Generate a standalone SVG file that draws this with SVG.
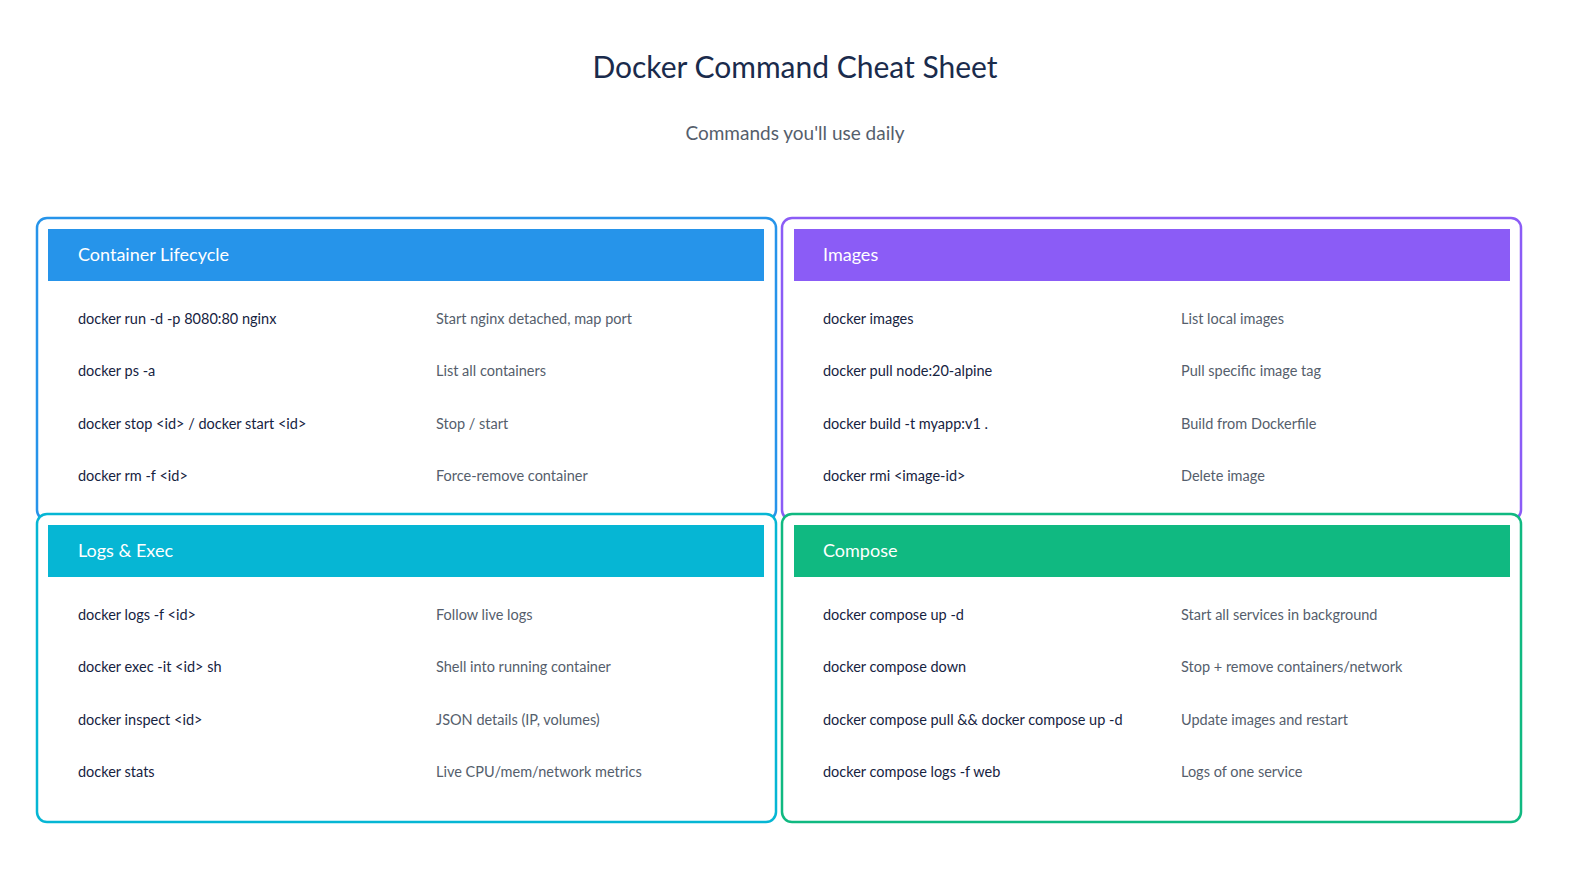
<svg xmlns="http://www.w3.org/2000/svg" width="1590" height="890" viewBox="0 0 1590 890">
<style>
text{font-family:"Source Sans Pro","Lato","Noto Sans",sans-serif}
.t{font-size:30px;fill:#1a2b4c;text-anchor:middle}
.s{font-size:19px;fill:#555e6c;text-anchor:middle}
.h{font-size:18px;fill:#ffffff}
.c{font-size:14.5px;fill:#16233f}
.d{font-size:14.5px;fill:#555e6c}
.box{fill:none;stroke-width:2.5}
</style>
<rect width="1590" height="890" fill="#ffffff"/>
<text class="t" x="795" y="78">Docker Command Cheat Sheet</text>
<text class="s" x="795" y="140">Commands you'll use daily</text>
<g id="lifecycle">
<rect class="box" x="37" y="218" width="739" height="302" rx="10" stroke="#2694ea"/>
<rect x="48" y="229" width="716" height="52" fill="#2694ea"/>
<text class="h" x="78" y="261">Container Lifecycle</text>
<text class="c" x="78" y="324">docker run -d -p 8080:80 nginx</text><text class="d" x="436" y="324">Start nginx detached, map port</text>
<text class="c" x="78" y="376">docker ps -a</text><text class="d" x="436" y="376">List all containers</text>
<text class="c" x="78" y="429">docker stop &lt;id&gt; / docker start &lt;id&gt;</text><text class="d" x="436" y="429">Stop / start</text>
<text class="c" x="78" y="481">docker rm -f &lt;id&gt;</text><text class="d" x="436" y="481">Force-remove container</text>
</g>
<g id="images">
<rect class="box" x="782" y="218" width="739" height="302" rx="10" stroke="#8b5cf6"/>
<rect x="794" y="229" width="716" height="52" fill="#8b5cf6"/>
<text class="h" x="823" y="261">Images</text>
<text class="c" x="823" y="324">docker images</text><text class="d" x="1181" y="324">List local images</text>
<text class="c" x="823" y="376">docker pull node:20-alpine</text><text class="d" x="1181" y="376">Pull specific image tag</text>
<text class="c" x="823" y="429">docker build -t myapp:v1 .</text><text class="d" x="1181" y="429">Build from Dockerfile</text>
<text class="c" x="823" y="481">docker rmi &lt;image-id&gt;</text><text class="d" x="1181" y="481">Delete image</text>
</g>
<g id="logs">
<rect x="37" y="514" width="739" height="308" rx="10" fill="#ffffff" stroke="#06b6d4" stroke-width="2.5"/>
<rect x="48" y="525" width="716" height="52" fill="#06b6d4"/>
<text class="h" x="78" y="557">Logs &amp; Exec</text>
<text class="c" x="78" y="620">docker logs -f &lt;id&gt;</text><text class="d" x="436" y="620">Follow live logs</text>
<text class="c" x="78" y="672">docker exec -it &lt;id&gt; sh</text><text class="d" x="436" y="672">Shell into running container</text>
<text class="c" x="78" y="725">docker inspect &lt;id&gt;</text><text class="d" x="436" y="725">JSON details (IP, volumes)</text>
<text class="c" x="78" y="777">docker stats</text><text class="d" x="436" y="777">Live CPU/mem/network metrics</text>
</g>
<g id="compose">
<rect x="782" y="514" width="739" height="308" rx="10" fill="#ffffff" stroke="#10b981" stroke-width="2.5"/>
<rect x="794" y="525" width="716" height="52" fill="#10b981"/>
<text class="h" x="823" y="557">Compose</text>
<text class="c" x="823" y="620">docker compose up -d</text><text class="d" x="1181" y="620">Start all services in background</text>
<text class="c" x="823" y="672">docker compose down</text><text class="d" x="1181" y="672">Stop + remove containers/network</text>
<text class="c" x="823" y="725">docker compose pull &amp;&amp; docker compose up -d</text><text class="d" x="1181" y="725">Update images and restart</text>
<text class="c" x="823" y="777">docker compose logs -f web</text><text class="d" x="1181" y="777">Logs of one service</text>
</g>
<g id="connectors"/>
</svg>
